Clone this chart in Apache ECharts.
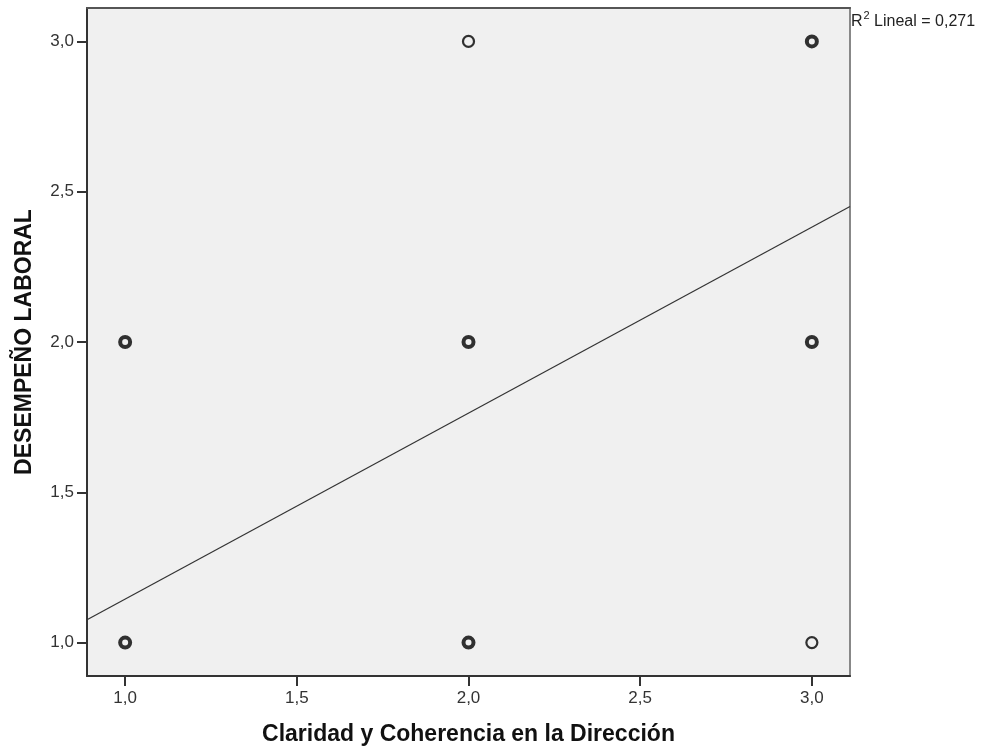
<!DOCTYPE html>
<html><head><meta charset="utf-8">
<script src="https://cdn.jsdelivr.net/npm/echarts@6/dist/echarts.min.js"></script>
<style>html,body{margin:0;padding:0;background:#fff}#c{width:987px;height:748px}</style>
</head><body><div id="c"></div>
<script>
// Data
const xTicks = [1, 1.5, 2, 2.5, 3];
const yTicks = [1, 1.5, 2, 2.5, 3];
const singlePoints = [[2, 3], [3, 1]];                 // thin circles (one case)
const multiPoints = [[1, 1], [1, 2], [2, 1], [2, 2], [3, 2], [3, 3]]; // bold circles (overlapping cases)
const fitX = [0.8889, 3.1111];
const fitY = [1.076, 2.451];
const r2Text = '0,271';
const xName = 'Claridad y Coherencia en la Dirección';
const yName = 'DESEMPEÑO LABORAL';

const fmt = v => v.toFixed(1).replace('.', ',');
const chart = echarts.init(document.getElementById('c'));
const font = 'Liberation Sans, Arial, sans-serif';
chart.setOption({
  animation: false,
  grid: {left: 87, top: 8, right: 137, bottom: 72, outerBoundsMode: 'none', containLabel: false,
    show: true, backgroundColor: '#f0f0f0', borderColor: '#888', borderWidth: 2},
  xAxis: [{
    type: 'value', min: 0.8889, max: 3.1111,
    splitLine: {show: false},
    axisLine: {show: true, onZero: false, lineStyle: {color: '#333', width: 2}},
    axisTick: {show: true, length: 10, customValues: xTicks, lineStyle: {color: '#333', width: 2}},
    axisLabel: {customValues: xTicks, formatter: fmt, color: '#333', fontSize: 17, fontFamily: font, margin: 14},
    name: xName, nameLocation: 'middle', nameGap: 47,
    nameTextStyle: {fontSize: 23, fontWeight: 'bold', color: '#111', fontFamily: font}
  }, {
    type: 'value', position: 'top', min: 0.8889, max: 3.1111,
    splitLine: {show: false}, axisTick: {show: false}, axisLabel: {show: false},
    axisLine: {show: true, onZero: false, lineStyle: {color: '#555', width: 2}}
  }],
  yAxis: {
    type: 'value', min: 0.8889, max: 3.1111,
    splitLine: {show: false},
    axisLine: {show: true, onZero: false, lineStyle: {color: '#333', width: 2}},
    axisTick: {show: true, length: 10, customValues: yTicks, lineStyle: {color: '#333', width: 2}},
    axisLabel: {customValues: yTicks, formatter: fmt, color: '#333', fontSize: 17, fontFamily: font, margin: 13},
    name: yName, nameLocation: 'middle', nameGap: 51,
    nameTextStyle: {fontSize: 23, fontWeight: 'bold', color: '#111', fontFamily: font}
  },
  series: [
    {type: 'line', data: fitX.map((x, i) => [x, fitY[i]]), symbol: 'none', lineStyle: {color: '#333', width: 1.2}, silent: true, z: 1},
    {type: 'scatter', data: singlePoints, symbol: 'circle', symbolSize: 11,
      itemStyle: {color: 'rgba(0,0,0,0)', borderColor: '#000', borderWidth: 2.2}, z: 3},
    {type: 'scatter', data: multiPoints, symbol: 'circle', symbolSize: 10,
      itemStyle: {color: 'rgba(0,0,0,0)', borderColor: '#000', borderWidth: 4}, z: 3}
  ],
  graphic: [{
    type: 'text', left: 851, top: 10,
    style: {
      text: '{b|R}{s|2}{b| Lineal = ' + r2Text + '}',
      rich: {
        b: {fontSize: 16, fontFamily: font, fill: '#222', verticalAlign: 'bottom', lineHeight: 20},
        s: {fontSize: 11, fontFamily: font, fill: '#222', verticalAlign: 'top', lineHeight: 20, padding: [0, 0, 8, 1]}
      }
    }
  }]
});
</script></body></html>
